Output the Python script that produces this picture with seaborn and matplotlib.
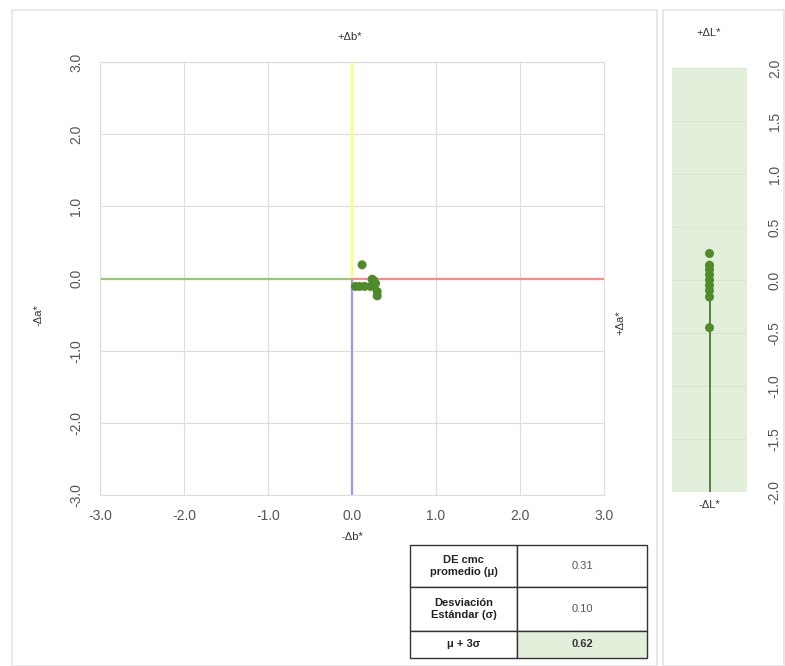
import matplotlib
matplotlib.use("Agg")
import matplotlib.pyplot as plt
import seaborn as sns
import pandas as pd
from matplotlib.patches import Rectangle

# ---- data ----
delta_b = [0.12, 0.24, 0.28, 0.22, 0.30, 0.30, 0.04, 0.09, 0.15, 0.26]
delta_a = [0.19, -0.01, -0.07, -0.11, -0.18, -0.24, -0.11, -0.11, -0.11, -0.03]
delta_L = [0.25, 0.14, 0.10, 0.05, 0.00, -0.05, -0.10, -0.16, -0.45]
ab_ticks = [-3.0, -2.0, -1.0, 0.0, 1.0, 2.0, 3.0]
L_ticks = [-2.0, -1.5, -1.0, -0.5, 0.0, 0.5, 1.0, 1.5, 2.0]
table_labels = ["DE cmc\npromedio (\u03bc)", "Desviaci\u00f3n\nEst\u00e1ndar (\u03c3)", "\u03bc + 3\u03c3"]
table_values = ["0.31", "0.10", "0.62"]

sns.set_style("white")
plt.rcParams['font.family'] = ['Liberation Sans', 'DejaVu Sans']

W, H = 785, 666
fig = plt.figure(figsize=(W / 100, H / 100), dpi=100)

def fx(px):
    return px / W

def fy(py):
    return 1 - py / H

# panel frames
for x0, x1 in [(12, 657), (663, 784)]:
    fig.patches.append(Rectangle((fx(x0), fy(666)), fx(x1 - x0), (666 - 10) / H,
                                 transform=fig.transFigure, fill=False,
                                 edgecolor="#e4e4e4", lw=1.2))

pt_color = "#4f8a2b"
tick_color = "#555555"
grid_color = "#dddddd"

# ---- main a*b* plot ----
ax = fig.add_axes([fx(100), fy(495), fx(604 - 100), (495 - 62) / H])
ax.set_xlim(-3, 3)
ax.set_ylim(-3, 3)
ax.set_xticks(ab_ticks)
ax.set_yticks(ab_ticks)
ax.set_xticklabels([f"{v:.1f}" for v in ab_ticks])
ax.set_yticklabels([f"{v:.1f}" for v in ab_ticks])
ax.grid(True, color=grid_color, lw=0.8)
for s in ax.spines.values():
    s.set_color(grid_color)
    s.set_linewidth(0.8)
ax.tick_params(axis="both", length=0, colors=tick_color, labelsize=10)
ax.tick_params(axis="x", pad=10)
ax.tick_params(axis="y", pad=12)
for lab in ax.get_yticklabels():
    lab.set_rotation(90)
    lab.set_va("center")

# colored axes lines
ax.plot([0, 0], [0, 3], color="#ffff70", lw=1.6, zorder=2)
ax.plot([0, 0], [0, -3], color="#9a9af5", lw=1.6, zorder=2)
ax.plot([-3, 0], [0, 0], color="#9cc47c", lw=1.6, zorder=2)
ax.plot([0, 3], [0, 0], color="#f08f8f", lw=1.6, zorder=2)

df = pd.DataFrame({"b": delta_b, "a": delta_a})
sns.scatterplot(data=df, x="b", y="a", ax=ax, color=pt_color, s=42,
                edgecolor="none", zorder=3, legend=False)
ax.set_xlabel("")
ax.set_ylabel("")

lab_kw = dict(fontsize=8, color="#333333", ha="center", va="center")
fig.text(fx(350), fy(37), "+\u0394b*", **lab_kw)
fig.text(fx(352), fy(537), "-\u0394b*", **lab_kw)
fig.text(fx(38), fy(315), "-\u0394a*", rotation=90, **lab_kw)
fig.text(fx(620), fy(323), "+\u0394a*", rotation=90, **lab_kw)

# ---- L* plot ----
axL = fig.add_axes([fx(672), fy(492), fx(747 - 672), (492 - 68) / H])
axL.set_facecolor("#e2efda")
axL.set_xlim(-1, 1)
axL.set_ylim(-2, 2)
axL.set_xticks([])
axL.set_yticks(L_ticks)
axL.set_yticklabels([f"{v:.1f}" for v in L_ticks])
axL.yaxis.tick_right()
axL.grid(True, axis="y", color="#d6e3cd", lw=0.7)
for s in axL.spines.values():
    s.set_visible(False)
axL.tick_params(axis="y", length=0, colors=tick_color, labelsize=10, pad=20)
for lab in axL.get_yticklabels():
    lab.set_rotation(90)
    lab.set_va("center")
    lab.set_ha("center")
axL.plot([0, 0], [0, -2], color="#3f6f24", lw=1.2, zorder=2)
dfL = pd.DataFrame({"x": [0.0] * len(delta_L), "L": delta_L})
sns.scatterplot(data=dfL, x="x", y="L", ax=axL, color=pt_color, s=42,
                edgecolor="none", zorder=3, legend=False)
axL.set_xlabel("")
axL.set_ylabel("")
fig.text(fx(709), fy(33), "+\u0394L*", **lab_kw)
fig.text(fx(709), fy(505), "-\u0394L*", **lab_kw)

# ---- table ----
axT = fig.add_axes([fx(410), fy(658), fx(647 - 410), (658 - 545) / H])
axT.axis("off")
cell_text = [[l, v] for l, v in zip(table_labels, table_values)]
tbl = axT.table(cellText=cell_text, bbox=[0, 0, 1, 1], cellLoc="center")
tbl.auto_set_font_size(False)
row_h = [42, 43, 27]
for (r, c), cell in tbl.get_celld().items():
    cell.set_height(row_h[r])
    cell.set_width(107 if c == 0 else 130)
    cell.set_edgecolor("#333333")
    cell.set_linewidth(1.0)
    txt = cell.get_text()
    txt.set_fontsize(8)
    if c == 0:
        txt.set_fontweight("bold")
        txt.set_color("#222222")
    else:
        txt.set_color("#555555")
    if r == 2 and c == 1:
        cell.set_facecolor("#e2efda")
        txt.set_fontweight("bold")
        txt.set_color("#333333")

fig.savefig("out.png", dpi=100)
